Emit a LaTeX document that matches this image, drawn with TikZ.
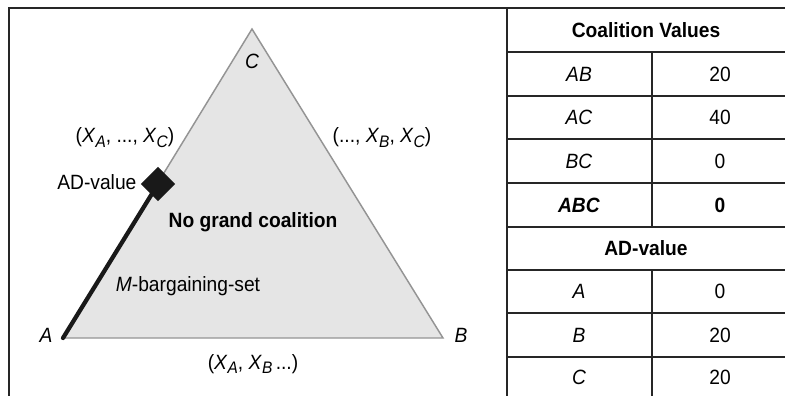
\documentclass[tikz,border=0pt]{standalone}
\usepackage{fontspec}
\setmainfont{Liberation Sans}[FakeStretch=0.93]
\usetikzlibrary{shapes.geometric}

\newcommand{\xsub}[1]{\textit{X}\raisebox{-0.45ex}{\fontsize{12.5}{13}\selectfont\textit{#1}}}

\begin{document}
\begin{tikzpicture}[
  x=0.75pt,y=-0.75pt,
  every node/.style={font=\fontsize{15.5}{18}\selectfont,inner sep=1pt},
  frameline/.style={line width=1.6pt,black!85},
  tabline/.style={line width=1.4pt,black!85},
  edgeline/.style={draw=black!42,line width=1.1pt,fill=black!10},
  cell/.style={anchor=center},
  headcell/.style={anchor=center,font=\fontsize{15.5}{18}\selectfont\bfseries},
]
\useasboundingbox (0,0) rectangle (785,396);

% Frame
\draw[frameline] (9,396) -- (9,8) -- (785,8);

% Triangle
\coordinate (A) at (63,338);
\coordinate (B) at (443,338);
\coordinate (C) at (252,29);
\draw[edgeline,line join=miter] (A) -- (B) -- (C) -- cycle;

% M-bargaining-set and AD-value point
\node[diamond,fill=black!90,minimum size=26pt,inner sep=0pt] (adpt) at (158,184) {};
\draw[line width=3.2pt,black!90,line cap=round] (A) -- (adpt.center);

% Vertex labels
\node (labC) at (252,61) {\textit{C}};
\node (labA) at (46,335) {\textit{A}};
\node (labB) at (461,335) {\textit{B}};

% Edge labels
\node (edAC) at (125,138) {(\xsub{A}, ..., \xsub{C})};
\node (edBC) at (382,138) {(..., \xsub{B}, \xsub{C})};
\node (edAB) at (253,364) {(\xsub{A}, \xsub{B}\,...)};

% Inner labels
\node[anchor=east] (adlab) at (138,182) {AD-value};
\node[font=\fontsize{15.5}{18}\selectfont\bfseries] (nogc) at (253,222) {No grand coalition};
\node (mbs) at (188,286) {\textit{M}-bargaining-set};

% Table lines
\draw[tabline] (507,8) -- (507,396);
\foreach \yy in {52,96,139,183,227,270,313,357}
  \draw[tabline] (507,\yy) -- (785,\yy);
\draw[tabline] (652,52) -- (652,227);
\draw[tabline] (652,270) -- (652,396);

% Table text
\node[headcell] (hcv) at (646,30) {Coalition Values};
\node[cell] (kAB) at (579,74) {\textit{AB}};
\node[cell] (vAB) at (720,74) {20};
\node[cell] (kAC) at (579,117) {\textit{AC}};
\node[cell] (vAC) at (720,117) {40};
\node[cell] (kBC) at (579,161) {\textit{BC}};
\node[cell] (vBC) at (720,161) {0};
\node[headcell] (kABC) at (579,205) {\textit{ABC}};
\node[headcell] (vABC) at (720,205) {0};
\node[headcell] (had) at (646,248) {AD-value};
\node[cell] (kA) at (579,291) {\textit{A}};
\node[cell] (vA) at (720,291) {0};
\node[cell] (kB) at (579,335) {\textit{B}};
\node[cell] (vB) at (720,335) {20};
\node[cell] (kC) at (579,377) {\textit{C}};
\node[cell] (vC) at (720,377) {20};

\end{tikzpicture}
\end{document}
